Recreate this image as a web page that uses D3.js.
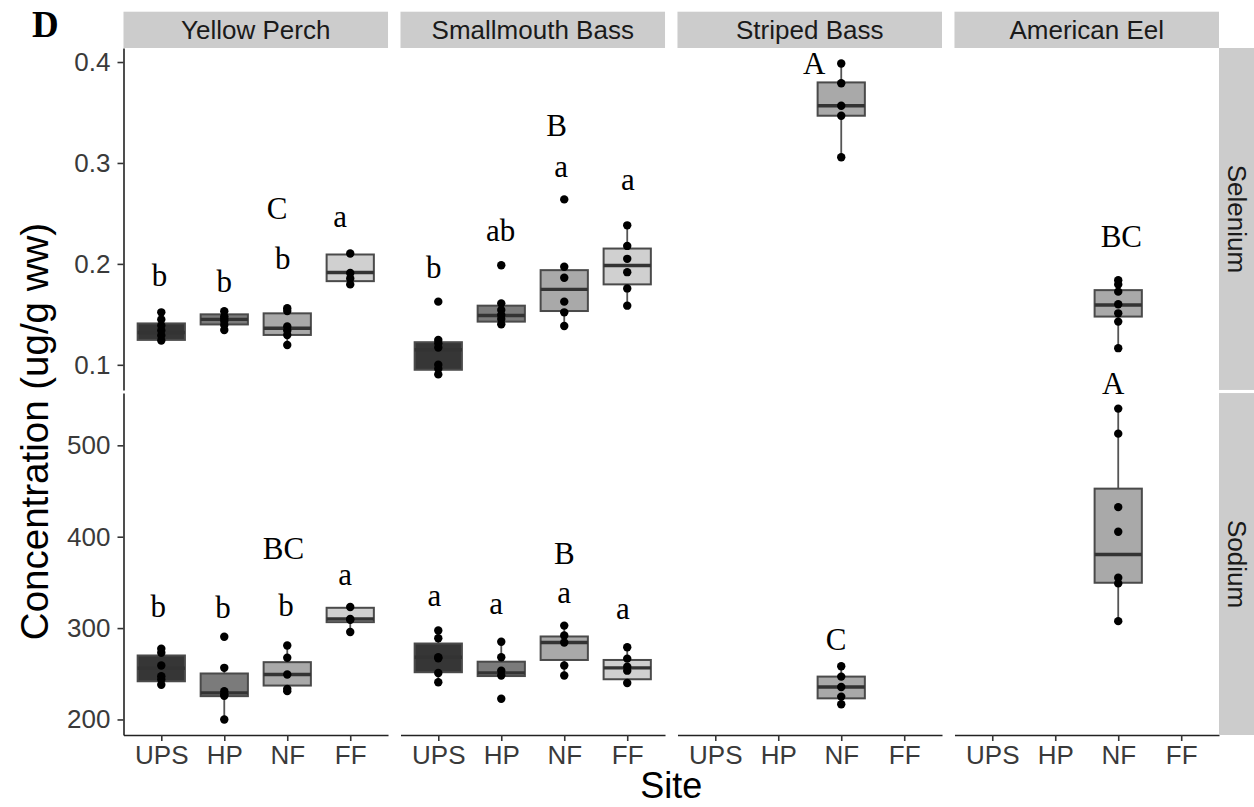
<!DOCTYPE html>
<html>
<head>
<meta charset="utf-8">
<script src="https://cdn.jsdelivr.net/npm/d3@7"></script>
<style>
  body { margin: 0; background: #fff; }
  svg { display: block; }
</style>
</head>
<body>
<div id="chart"></div>
<script>
var species = ["Yellow Perch", "Smallmouth Bass", "Striped Bass", "American Eel"];
var elements = ["Selenium", "Sodium"];
var sites = ["UPS", "HP", "NF", "FF"];
var siteFill = ["#363636", "#7b7b7b", "#a9a9a9", "#d0d0d0"];

// species, site, lower whisker, q1, median, q3, upper whisker
var seleniumBoxes = [
  ["Yellow Perch", "UPS", 0.124, 0.1247, 0.132, 0.141, 0.152],
  ["Yellow Perch", "HP", 0.1345, 0.140, 0.145, 0.150, 0.153],
  ["Yellow Perch", "NF", 0.1197, 0.1296, 0.1362, 0.151, 0.156],
  ["Yellow Perch", "FF", 0.1797, 0.1829, 0.1915, 0.2093, 0.2103],
  ["Smallmouth Bass", "UPS", 0.0905, 0.0951, 0.115, 0.1224, 0.1247],
  ["Smallmouth Bass", "HP", 0.1402, 0.1428, 0.1488, 0.1586, 0.1609],
  ["Smallmouth Bass", "NF", 0.1385, 0.1533, 0.1747, 0.1938, 0.1971],
  ["Smallmouth Bass", "FF", 0.1586, 0.1797, 0.1984, 0.2152, 0.2382],
  ["Striped Bass", "NF", 0.3057, 0.3468, 0.3567, 0.3798, 0.3985],
  ["American Eel", "NF", 0.1165, 0.1478, 0.1592, 0.174, 0.1839]
];
var seleniumPoints = [
  ["Yellow Perch", "UPS", [0.152, 0.145, 0.139, 0.134, 0.129, 0.124]],
  ["Yellow Perch", "HP", [0.153, 0.148, 0.1434, 0.1395, 0.1345, 0.146]],
  ["Yellow Perch", "NF", [0.156, 0.1533, 0.138, 0.134, 0.1296, 0.1197]],
  ["Yellow Perch", "FF", [0.2103, 0.191, 0.1856, 0.1797]],
  ["Smallmouth Bass", "UPS", [0.1626, 0.1247, 0.1214, 0.1172, 0.1, 0.096, 0.0905]],
  ["Smallmouth Bass", "HP", [0.1987, 0.1609, 0.1543, 0.1494, 0.1454, 0.1402]],
  ["Smallmouth Bass", "NF", [0.2639, 0.1971, 0.1863, 0.1626, 0.152, 0.1385]],
  ["Smallmouth Bass", "FF", [0.2382, 0.2178, 0.205, 0.1918, 0.1757, 0.1586]],
  ["Striped Bass", "NF", [0.3985, 0.379, 0.3567, 0.3468, 0.3057]],
  ["American Eel", "NF", [0.1839, 0.1797, 0.1725, 0.16, 0.151, 0.1428, 0.1165]]
];
// species, site position (0 = UPS .. 3 = FF), value at baseline, letter
var seleniumLetters = [
  ["Yellow Perch", -0.03, 0.1784, "b"],
  ["Yellow Perch", 1.0, 0.1725, "b"],
  ["Yellow Perch", 1.93, 0.1948, "b"],
  ["Yellow Perch", 1.84, 0.2441, "C"],
  ["Yellow Perch", 2.84, 0.2366, "a"],
  ["Smallmouth Bass", -0.07, 0.1863, "b"],
  ["Smallmouth Bass", 0.99, 0.2228, "ab"],
  ["Smallmouth Bass", 1.95, 0.286, "a"],
  ["Smallmouth Bass", 1.88, 0.3265, "B"],
  ["Smallmouth Bass", 3.01, 0.2728, "a"],
  ["Striped Bass", 1.57, 0.388, "A"],
  ["American Eel", 2.05, 0.2169, "BC"]
];
var seleniumTicks = [0.1, 0.2, 0.3, 0.4];

var sodiumBoxes = [
  ["Yellow Perch", "UPS", 238, 241.8, 256, 270, 277.3],
  ["Yellow Perch", "HP", 200, 225.5, 229.1, 250.3, 256.5],
  ["Yellow Perch", "NF", 231, 237.1, 249.2, 262.7, 281],
  ["Yellow Perch", "FF", 295.7, 306.5, 310, 322.2, 323],
  ["Smallmouth Bass", "UPS", 240.7, 251.7, 268, 283.1, 297.3],
  ["Smallmouth Bass", "HP", 247.5, 247.5, 251, 263.2, 285.1],
  ["Smallmouth Bass", "NF", 248.1, 265.1, 284.3, 290.8, 302.7],
  ["Smallmouth Bass", "FF", 239.9, 244, 256.5, 265.1, 279.1],
  ["Striped Bass", "NF", 216.6, 223.1, 235.5, 246.9, 258.3],
  ["American Eel", "NF", 307.6, 349.6, 380.6, 452.6, 540.2]
];
var sodiumPoints = [
  ["Yellow Perch", "UPS", [277.3, 273, 259, 247.3, 243.7, 238]],
  ["Yellow Perch", "HP", [290.5, 256.5, 231, 227.3, 226, 200]],
  ["Yellow Perch", "NF", [281, 267.5, 249.2, 233.5, 231]],
  ["Yellow Perch", "FF", [323, 310, 309, 295.7]],
  ["Smallmouth Bass", "UPS", [297.3, 288.9, 268.1, 267, 250.9, 240.7]],
  ["Smallmouth Bass", "HP", [285.1, 268.1, 253.4, 248.1, 222.6]],
  ["Smallmouth Bass", "NF", [302.7, 291.8, 284.3, 259, 248.1]],
  ["Smallmouth Bass", "FF", [279.1, 266.6, 257.6, 253.4, 239.9]],
  ["Striped Bass", "NF", [258.3, 246.9, 235.5, 225, 216.6]],
  ["American Eel", "NF", [540.2, 512.8, 432.4, 405.5, 355.1, 348.9, 307.6]]
];
var sodiumLetters = [
  ["Yellow Perch", -0.05, 312.3, "b"],
  ["Yellow Perch", 0.98, 311.2, "b"],
  ["Yellow Perch", 1.98, 313.4, "b"],
  ["Yellow Perch", 1.94, 375.1, "BC"],
  ["Yellow Perch", 2.92, 346.7, "a"],
  ["Smallmouth Bass", -0.06, 324, "a"],
  ["Smallmouth Bass", 0.92, 314.9, "a"],
  ["Smallmouth Bass", 2.0, 327.7, "a"],
  ["Smallmouth Bass", 2.0, 369.7, "B"],
  ["Smallmouth Bass", 2.93, 310.2, "a"],
  ["Striped Bass", 1.92, 276.2, "C"],
  ["American Eel", 1.92, 555.9, "A"]
];
var sodiumTicks = [200, 300, 400, 500];

var boxes = [seleniumBoxes, sodiumBoxes];
var points = [seleniumPoints, sodiumPoints];
var letters = [seleniumLetters, sodiumLetters];
var ticks = [seleniumTicks, sodiumTicks];

var width = 1254, height = 807;
var sansFont = "'Liberation Sans', Arial, Helvetica, sans-serif";
var serifFont = "'Liberation Serif', 'Times New Roman', serif";

var svg = d3.select("#chart")
  .append("svg")
    .attr("width", width)
    .attr("height", height);

var col = d3.scaleBand()
  .domain(species)
  .range([123.5, 1219])
  .paddingInner(0.045);

var row = d3.scaleBand()
  .domain(elements)
  .range([48, 735])
  .paddingInner(0.009);

var x = d3.scalePoint()
  .domain(sites)
  .range([0, col.bandwidth()])
  .padding(0.6);

// fractional site position for the letters
var xPos = d3.scaleLinear()
  .domain([0, sites.length - 1])
  .range([x(sites[0]), x(sites[sites.length - 1])]);

var boxWidth = x.step() * 0.75;

function expandRange(ext) {
  var r = ext[1] - ext[0];
  return [ext[0] - 0.05 * r, ext[1] + 0.05 * r];
}

elements.forEach(function (el, ri) {
  var allValues = [];
  boxes[ri].forEach(function (b) { allValues.push(b[2], b[6]); });
  points[ri].forEach(function (p) { allValues = allValues.concat(p[2]); });

  var y = d3.scaleLinear()
    .domain(expandRange(d3.extent(allValues)))
    .range([row.bandwidth(), 0]);

  species.forEach(function (sp, ci) {
    var g = svg.append("g")
      .attr("transform", "translate(" + col(sp) + "," + row(el) + ")");

    var spBoxes = boxes[ri].filter(function (b) { return b[0] === sp; });

    // whiskers
    g.selectAll(".whisker")
      .data(spBoxes)
      .enter()
      .append("path")
        .attr("d", function (b) {
          var cx = x(b[1]);
          return "M" + cx + "," + y(b[2]) + "V" + y(b[3]) +
                 "M" + cx + "," + y(b[5]) + "V" + y(b[6]);
        })
        .attr("stroke", "#555")
        .attr("stroke-width", 1.8)
        .attr("fill", "none");

    // boxes
    g.selectAll(".box")
      .data(spBoxes)
      .enter()
      .append("rect")
        .attr("x", function (b) { return x(b[1]) - boxWidth / 2; })
        .attr("y", function (b) { return y(b[5]); })
        .attr("width", boxWidth)
        .attr("height", function (b) { return y(b[3]) - y(b[5]); })
        .attr("fill", function (b) { return siteFill[sites.indexOf(b[1])]; })
        .attr("stroke", "#4a4a4a")
        .attr("stroke-width", 2);

    // medians
    g.selectAll(".median")
      .data(spBoxes)
      .enter()
      .append("line")
        .attr("x1", function (b) { return x(b[1]) - boxWidth / 2; })
        .attr("x2", function (b) { return x(b[1]) + boxWidth / 2; })
        .attr("y1", function (b) { return y(b[4]); })
        .attr("y2", function (b) { return y(b[4]); })
        .attr("stroke", "#333")
        .attr("stroke-width", 3.4);

    // points
    var spPoints = [];
    points[ri].filter(function (p) { return p[0] === sp; }).forEach(function (p) {
      p[2].forEach(function (v) { spPoints.push({site: p[1], value: v}); });
    });
    g.selectAll(".dot")
      .data(spPoints)
      .enter()
      .append("circle")
        .attr("cx", function (d) { return x(d.site); })
        .attr("cy", function (d) { return y(d.value); })
        .attr("r", 4.2)
        .attr("fill", "#000");

    // letters
    g.selectAll(".letter")
      .data(letters[ri].filter(function (l) { return l[0] === sp; }))
      .enter()
      .append("text")
        .attr("x", function (l) { return xPos(l[1]); })
        .attr("y", function (l) { return y(l[2]); })
        .attr("text-anchor", "middle")
        .style("font-family", serifFont)
        .style("font-size", "31px")
        .attr("fill", "#000")
        .text(function (l) { return l[3]; });

    // y axis on first column only
    if (ci === 0) {
      var ya = g.append("g")
        .call(d3.axisLeft(y).tickValues(ticks[ri]).tickSize(6).tickSizeOuter(0).tickPadding(7)
          .tickFormat(ri === 0 ? d3.format(".1f") : d3.format("d")));
      ya.select(".domain").attr("stroke", "#222").attr("stroke-width", 1.6);
      ya.selectAll(".tick line").attr("stroke", "#333").attr("stroke-width", 1.6);
      ya.selectAll(".tick text")
        .style("font-family", sansFont)
        .style("font-size", "26px")
        .attr("fill", "#3a3a3a");
    }

    // x axis on bottom row only
    if (ri === elements.length - 1) {
      var xa = g.append("g")
        .attr("transform", "translate(0," + row.bandwidth() + ")")
        .call(d3.axisBottom(x).tickSize(6).tickSizeOuter(0).tickPadding(5));
      xa.select(".domain").attr("stroke", "#222").attr("stroke-width", 1.6);
      xa.selectAll(".tick line").attr("stroke", "#333").attr("stroke-width", 1.6);
      xa.selectAll(".tick text")
        .style("font-family", sansFont)
        .style("font-size", "26px")
        .attr("fill", "#3a3a3a");
    }
  });

  // right strip
  var rx = col.range()[1];
  svg.append("rect")
    .attr("x", rx)
    .attr("y", row(el))
    .attr("width", 36)
    .attr("height", row.bandwidth())
    .attr("fill", "#cccccc");
  svg.append("text")
    .attr("transform", "translate(" + (rx + 18) + "," + (row(el) + row.bandwidth() / 2) + ") rotate(90)")
    .attr("text-anchor", "middle")
    .attr("dy", "0.35em")
    .style("font-family", sansFont)
    .style("font-size", "26px")
    .attr("fill", "#1a1a1a")
    .text(el);
});

// top strips
species.forEach(function (sp) {
  svg.append("rect")
    .attr("x", col(sp))
    .attr("y", 11.7)
    .attr("width", col.bandwidth())
    .attr("height", 36.3)
    .attr("fill", "#cccccc");
  svg.append("text")
    .attr("x", col(sp) + col.bandwidth() / 2)
    .attr("y", 29.8)
    .attr("dy", "0.36em")
    .attr("text-anchor", "middle")
    .style("font-family", sansFont)
    .style("font-size", "26px")
    .attr("fill", "#1a1a1a")
    .text(sp);
});

// axis titles
svg.append("text")
  .attr("x", (col.range()[0] + col.range()[1]) / 2)
  .attr("y", 798)
  .attr("text-anchor", "middle")
  .style("font-family", sansFont)
  .style("font-size", "36px")
  .attr("fill", "#000")
  .text("Site");

svg.append("text")
  .attr("transform", "rotate(-90)")
  .attr("x", -431.5)
  .attr("y", 48)
  .attr("text-anchor", "middle")
  .style("font-family", sansFont)
  .style("font-size", "38.5px")
  .attr("fill", "#000")
  .text("Concentration (ug/g ww)");

// panel tag
svg.append("text")
  .attr("x", 32)
  .attr("y", 37)
  .style("font-family", serifFont)
  .style("font-weight", "bold")
  .style("font-size", "37px")
  .attr("fill", "#000")
  .text("D");
</script>
</body>
</html>
